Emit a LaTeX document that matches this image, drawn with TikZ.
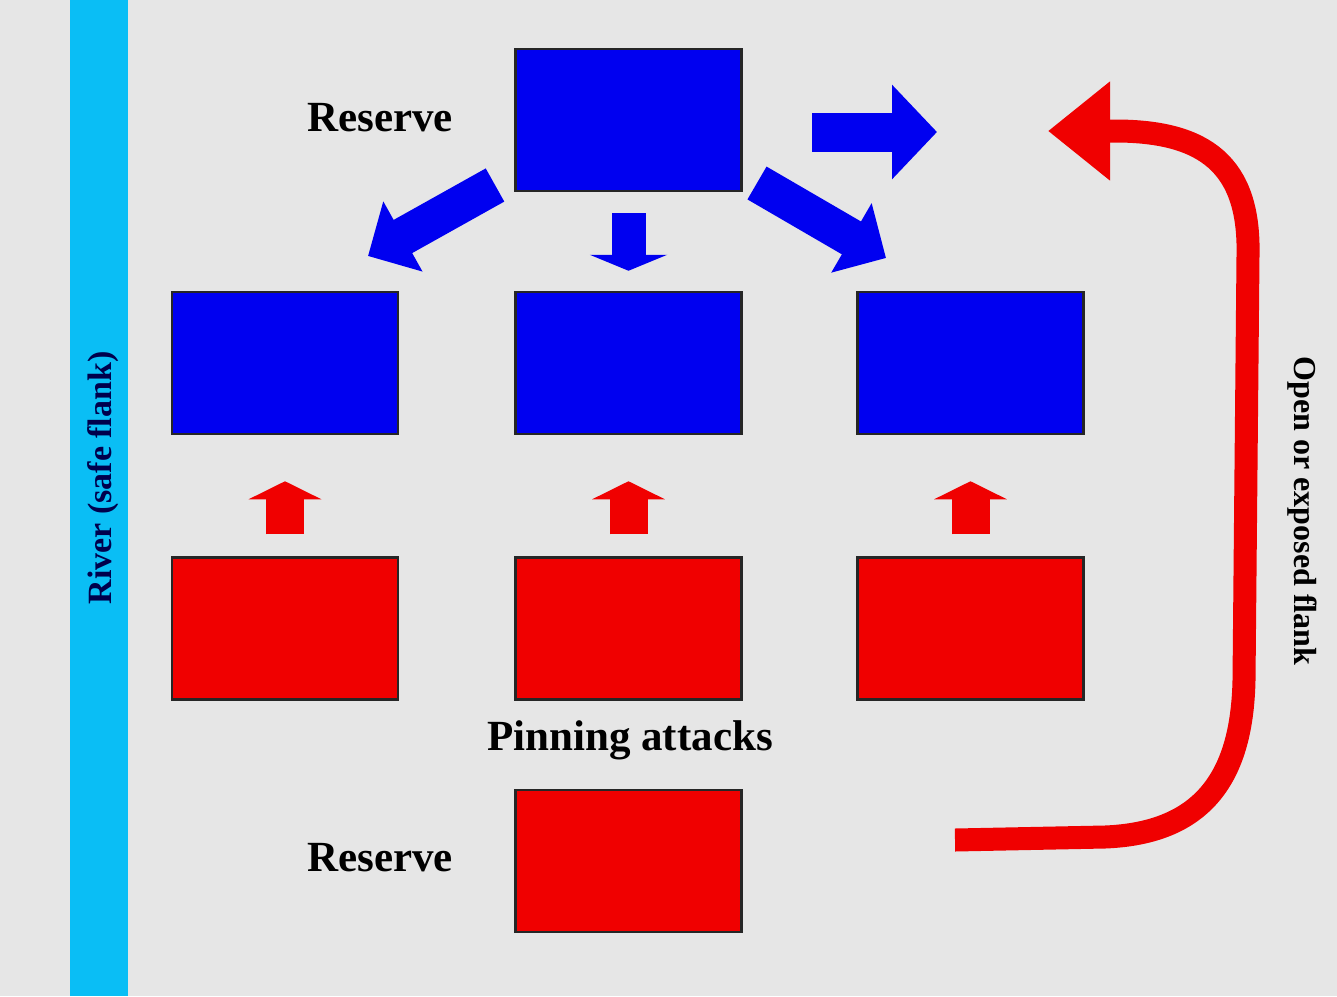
\documentclass[tikz,border=0pt]{standalone}
\usepackage{fontspec}
\setmainfont{Liberation Serif}
\usetikzlibrary{arrows.meta}

\definecolor{bggray}{RGB}{230,230,230}
\definecolor{rivercol}{RGB}{10,190,245}
\definecolor{ownblue}{RGB}{0,0,240}
\definecolor{enemyred}{RGB}{240,0,0}

\tikzset{
  unit/.style={draw=black!85, line width=2.5pt, minimum width=226pt, minimum height=142pt, inner sep=0pt},
  bluebox/.style={unit, fill=ownblue},
  redbox/.style={unit, fill=enemyred},
  bluearr/.style={draw=ownblue, line width=38pt, -{Triangle[length=40pt,width=78pt]}},
  redarr/.style={draw=enemyred, line width=38pt, -{Triangle[length=18pt,width=72pt]}},
  flankarr/.style={draw=enemyred, line width=23pt, -{Triangle[length=62pt,width=95pt]}},
  biglabel/.style={font=\fontsize{43}{50}\selectfont\bfseries, inner sep=0pt},
  sidelabel/.style={font=\fontsize{32}{38}\selectfont\bfseries, inner sep=0pt}
}

\begin{document}
\begin{tikzpicture}[x=1pt,y=-1pt]
\fill[bggray] (0,0) rectangle (1337,996);
\fill[rivercol] (70,0) rectangle (128,996);
\node[sidelabel, font=\fontsize{34}{40}\selectfont\bfseries, rotate=90, text=black!70!blue] (river) at (103,478) {River (safe flank)};
\node[sidelabel, rotate=-90] (flank) at (1302,511) {Open or exposed flank};

% boxes
\node[bluebox] (res) at (628.5,120) {};
\node[bluebox] (b1) at (285,363) {};
\node[bluebox] (b2) at (628.5,363) {};
\node[bluebox] (b3) at (970.5,363) {};
\node[redbox] (r1) at (285,628.5) {};
\node[redbox] (r2) at (628.5,628.5) {};
\node[redbox] (r3) at (970.5,628.5) {};
\node[redbox] (rres) at (628.5,861) {};

\node[biglabel] (tres) at (380,118) {Reserve};
\node[biglabel] (pin) at (630,740) {Pinning attacks};
\node[biglabel] (bres) at (380,858) {Reserve};

% reserve moves
\coordinate (dl0) at (495,185);
\coordinate (dl1) at (368,256);
\coordinate (dr0) at (757,183);
\coordinate (dr1) at (886,258);
\coordinate (rt0) at (812,132);
\coordinate (rt1) at (937,132);
\draw[bluearr] (dl0) -- (dl1);
\draw[bluearr] (dr0) -- (dr1);
\draw[bluearr, line width=39pt, -{Triangle[length=45pt,width=92pt]}] (rt0) -- (rt1);
\draw[bluearr, line width=34pt, -{Triangle[length=16pt,width=77pt]}] ([yshift=-21pt]res.south) -- ([yshift=20pt]b2.north);

% pinning attacks
\foreach \n in {1,2,3}
  \draw[redarr] ([yshift=22pt]r\n.north) -- ([yshift=-46pt]b\n.south);

% flanking move
\coordinate (fl0) at (955,840);
\coordinate (fl1) at (1048,131);
\draw[flankarr] (fl0) -- (1105,837) .. controls (1205,833) and (1242,775) .. (1244,680)
  -- (1248,255) .. controls (1250,165) and (1205,131) .. (1115,131) -- (fl1);
\end{tikzpicture}
\end{document}
